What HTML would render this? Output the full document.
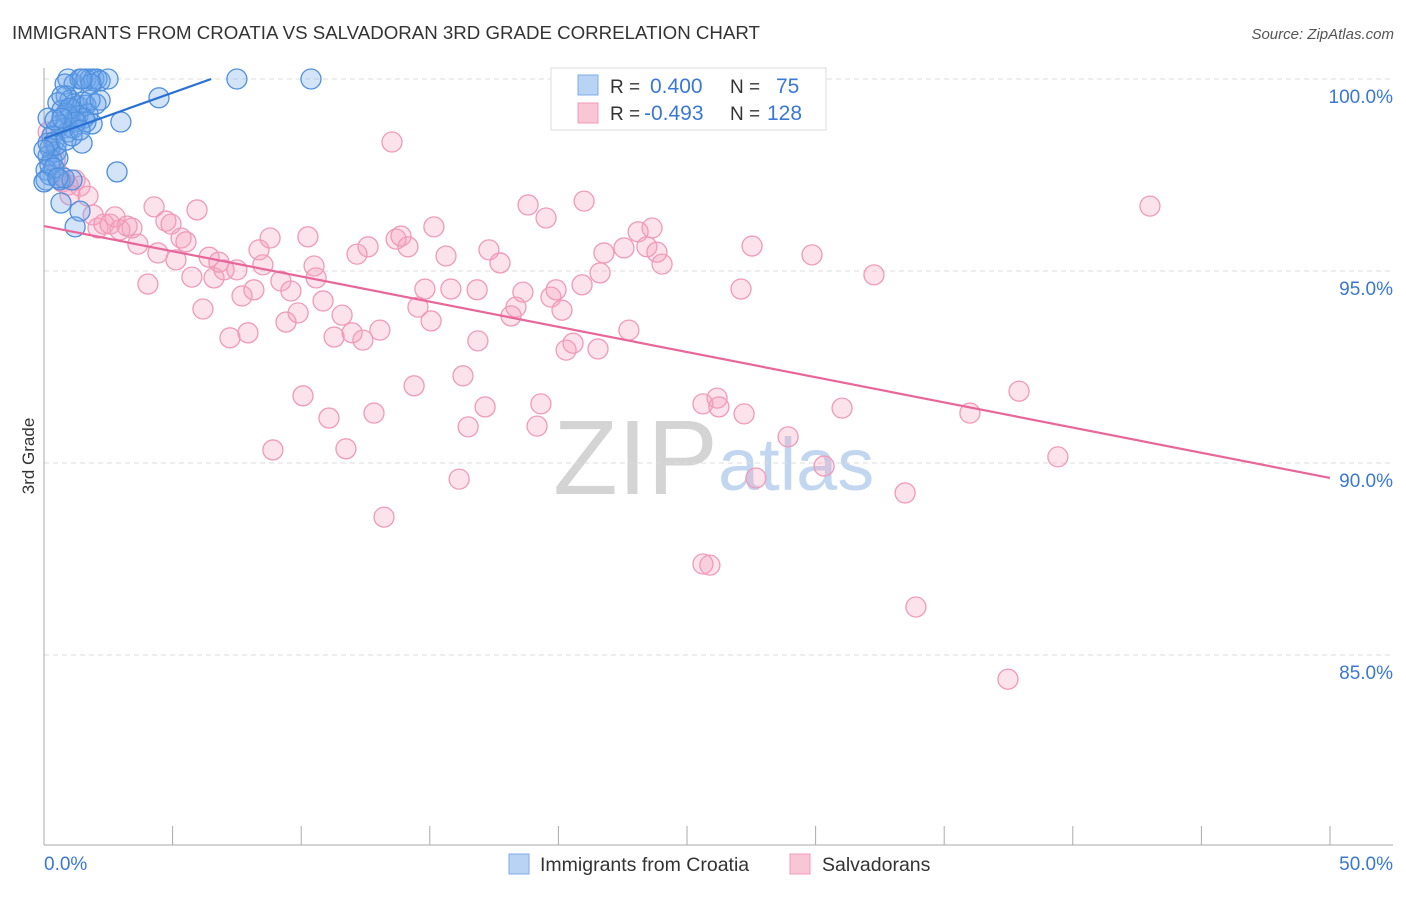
<!DOCTYPE html>
<html><head><meta charset="utf-8"><style>
body{margin:0;background:#fff;font-family:"Liberation Sans",sans-serif;}
svg text{font-family:"Liberation Sans",sans-serif;}
</style></head><body>
<svg id="chart" width="1406" height="892" viewBox="0 0 1406 892" xmlns="http://www.w3.org/2000/svg">
<text x="12" y="39" font-size="18.7" fill="#333">IMMIGRANTS FROM CROATIA VS SALVADORAN 3RD GRADE CORRELATION CHART</text>
<text x="1394" y="39" font-size="15" fill="#555" text-anchor="end" font-style="italic">Source: ZipAtlas.com</text>
<g>
<text x="553" y="494" font-size="106" fill="#d4d4d4" font-family="Liberation Serif, serif">ZIP</text>
<text x="718" y="490" font-size="74" fill="#c3d6ef">atlas</text>
</g>
<g id="grid"></g>
<text transform="translate(34,456) rotate(-90)" font-size="17" fill="#333" text-anchor="middle">3rd Grade</text>
<g id="marks"></g>
<g>
<rect x="551" y="68" width="275" height="62" fill="#fff" stroke="#ddd"/>
<rect x="578" y="75" width="20" height="20" fill="#b8d3f4" stroke="#7eaee8"/>
<rect x="578" y="103" width="20" height="20" fill="#f9c6d6" stroke="#f09ab8"/>
<text x="610" y="93" font-size="19" fill="#333">R =</text>
<text x="650" y="93" font-size="21" fill="#3a78d4">0.400</text>
<text x="730" y="93" font-size="19" fill="#333">N =</text>
<text x="776" y="93" font-size="21" fill="#3a78d4">75</text>
<text x="610" y="120" font-size="19" fill="#333">R =</text>
<text x="644" y="120" font-size="21" fill="#3a78d4">-0.493</text>
<text x="730" y="120" font-size="19" fill="#333">N =</text>
<text x="767" y="120" font-size="21" fill="#3a78d4">128</text>
</g>
<g>
<rect x="509" y="854" width="20" height="20" fill="#b8d3f4" stroke="#7eaee8"/>
<text x="540" y="871" font-size="19.5" fill="#333">Immigrants from Croatia</text>
<rect x="790" y="854" width="20" height="20" fill="#f9c6d6" stroke="#f09ab8"/>
<text x="822" y="871" font-size="19.5" fill="#333">Salvadorans</text>
</g>
</svg>
<script>
const yTicks=[100,95,90,85];
const yTickLabels=["100.0%","95.0%","90.0%","85.0%"];
const xTicks=[0,5,10,15,20,25,30,35,40,45,50];
const xEndLabels=["0.0%","50.0%"];
const blueX=[0.93,1.17,1.40,1.63,1.79,1.94,2.06,2.18,2.49,1.83,1.48,0.82,0.86,1.01,1.17,1.32,1.52,1.63,0.54,0.70,0.86,1.01,1.17,1.32,1.56,1.71,1.87,0.62,0.47,0.78,0.93,1.13,1.48,0.31,0.39,0.23,0.47,0.16,0.31,0.54,0.08,0.23,0.08,0.62,0.78,1.09,0.66,1.40,1.21,2.84,2.99,4.47,7.50,10.38,0.16,0.43,0.70,1.01,1.63,2.02,0.47,0.16,0.23,0.39,0.86,1.24,0,0,0.54,1.79,2.18,0.70,1.09,1.40];
const blueY=[100,99.87,100,100,100,100,100,99.95,100,99.87,100,99.87,99.56,99.45,99.35,99.30,99.40,99.32,99.38,99.19,99.11,99.01,98.93,99.04,98.98,99.09,98.83,98.80,98.67,98.72,98.62,98.72,98.33,98.52,98.36,98.20,98.10,98.00,97.89,97.94,97.63,97.50,97.37,97.37,97.42,97.37,96.77,96.56,96.15,97.58,98.88,99.51,100,100,98.98,98.93,99.56,99.24,98.88,99.35,98.28,98.33,97.76,97.68,98.41,98.88,97.32,98.15,97.42,99.45,99.45,98.98,98.52,98.67];
const pinkX=[0.16,0.23,0.43,0.62,0.70,0.93,1.21,1.40,1.01,1.71,1.91,2.10,2.33,2.57,2.76,2.95,3.23,3.42,3.65,4.04,4.28,4.43,4.74,4.94,5.13,5.33,5.52,5.75,5.95,6.18,6.42,6.61,6.80,7.00,7.23,7.50,7.70,7.93,8.16,8.36,8.51,8.79,8.90,9.21,9.41,9.60,9.88,10.07,10.26,10.50,10.58,10.85,11.08,11.28,11.59,11.74,11.98,12.17,12.40,12.60,12.83,13.06,13.22,13.53,13.69,13.88,14.15,14.39,14.54,14.81,15.05,15.16,15.63,15.82,16.14,16.29,16.49,16.84,16.87,17.15,17.30,17.73,18.16,18.35,18.62,18.82,19.17,19.32,19.52,19.71,19.91,20.14,20.30,20.57,20.92,21.00,21.54,21.62,21.77,22.55,22.74,23.10,23.44,23.64,23.83,24.03,24.92,25.62,25.62,25.89,26.17,26.24,27.10,27.22,27.53,27.68,28.93,29.86,30.33,31.03,32.27,33.48,33.90,36.00,37.48,37.91,39.42,43.00];
const pinkY=[98.62,98.20,97.89,97.50,97.32,97.24,97.37,97.21,96.98,96.95,96.46,96.12,96.22,96.22,96.41,96.07,96.17,96.12,95.70,94.66,96.67,95.47,96.30,96.22,95.29,95.86,95.76,94.84,96.59,94.01,95.36,94.82,95.23,95.03,93.26,95.03,94.35,93.39,94.51,95.55,95.16,95.86,90.34,94.74,93.67,94.48,93.91,91.75,95.89,95.13,94.82,94.22,91.17,93.28,93.85,90.37,93.39,95.44,93.20,95.63,91.30,93.46,88.59,98.36,95.83,95.91,95.63,92.01,94.06,94.53,93.70,96.15,95.39,94.53,89.58,92.27,90.94,94.51,93.18,91.46,95.55,95.21,93.83,94.06,94.45,96.72,90.96,91.54,96.38,94.32,94.51,93.98,92.94,93.12,94.64,96.82,92.97,94.95,95.47,95.60,93.46,96.02,95.63,96.12,95.49,95.18,99.97,91.54,87.37,87.34,91.69,91.46,94.53,91.28,95.65,89.61,90.68,95.42,89.92,91.43,94.90,89.22,86.25,91.30,84.37,91.87,90.16,96.69];
const blueTrendX=[0,6.5];
const blueTrendY=[98.45,100];
const pinkTrendX=[0,50];
const pinkTrendY=[96.17,89.61];

const NS="http://www.w3.org/2000/svg";
const X=v=>44+v*25.72;
const Y=v=>79+(100-v)*38.4;
function mk(tag,attrs,parent){const e=document.createElementNS(NS,tag);for(const k in attrs)e.setAttribute(k,attrs[k]);parent.appendChild(e);return e;}
const grid=document.getElementById('grid');
const marks=document.getElementById('marks');
yTicks.forEach((t,i)=>{
  const l=mk('line',{x1:44,x2:1393,y1:Y(t),y2:Y(t),stroke:'#ddd','stroke-dasharray':'5,4'},grid);
  
  
  const tx=mk('text',{x:1393,y:Y(t)+24,'font-size':19,fill:'#3a78d4','text-anchor':'end'},grid);
  tx.textContent=yTickLabels[i];
  
  
});
const ya=mk('line',{x1:44,x2:44,y1:68,y2:845,stroke:'#aaa'},grid);


const xa=mk('line',{x1:44,x2:1393,y1:845,y2:845,stroke:'#aaa'},grid);


xTicks.forEach(t=>{
  const l=mk('line',{x1:X(t),x2:X(t),y1:826,y2:845,stroke:'#aaa'},grid);
  
  
});
const xl0=mk('text',{x:44,y:870,'font-size':19,fill:'#3a78d4'},grid);
xl0.textContent=xEndLabels[0];


const xl1=mk('text',{x:1393,y:870,'font-size':19,fill:'#3a78d4','text-anchor':'end'},grid);
xl1.textContent=xEndLabels[1];



pinkX.forEach((v,i)=>{
  const c=mk('circle',{cx:X(v),cy:Y(pinkY[i]),r:10,fill:'rgba(244,160,190,0.3)',stroke:'#f09ab8','stroke-width':1.3},marks);
  
  
});
blueX.forEach((v,i)=>{
  const c=mk('circle',{cx:X(v),cy:Y(blueY[i]),r:10,fill:'rgba(110,165,235,0.3)',stroke:'#4f8fdc','stroke-width':1.3},marks);
  
  
});
const pl=mk('line',{x1:X(pinkTrendX[0]),y1:Y(pinkTrendY[0]),x2:X(pinkTrendX[1]),y2:Y(pinkTrendY[1]),stroke:'#e8679a','stroke-width':2.2},marks);


const bl=mk('line',{x1:X(blueTrendX[0]),y1:Y(blueTrendY[0]),x2:X(blueTrendX[1]),y2:Y(blueTrendY[1]),stroke:'#2a6fd4','stroke-width':2.2},marks);


</script>
</body></html>
